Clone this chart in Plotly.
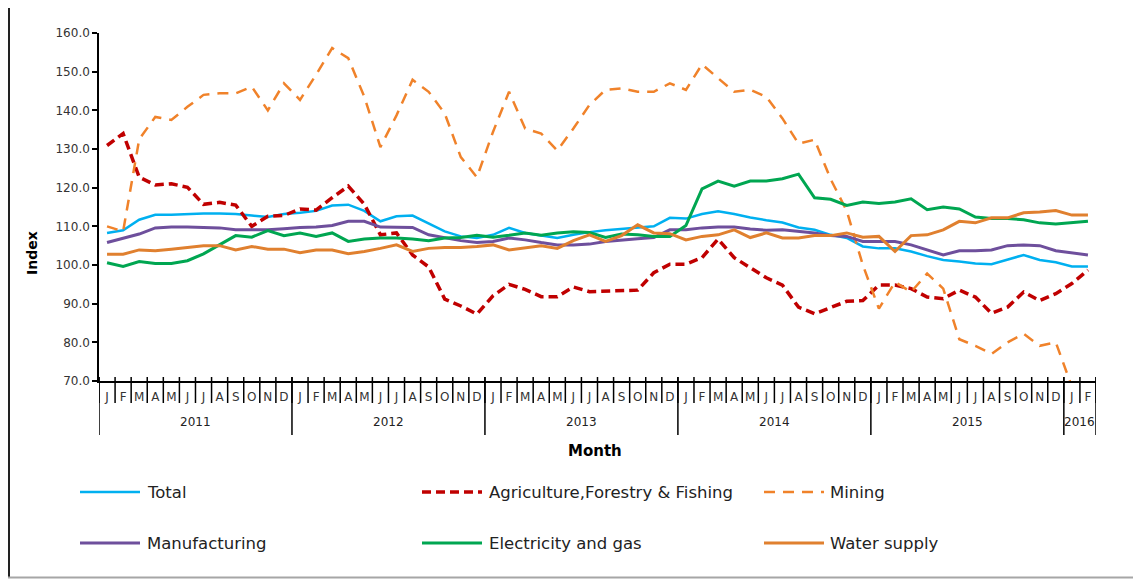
import plotly.graph_objects as go

# ---------------- data ----------------
month_letters = list("JFMAMJJASOND") * 5 + ["J", "F"]
year_labels = ["2011", "2012", "2013", "2014", "2015", "2016"]
year_month_counts = [12, 12, 12, 12, 12, 2]

total = [108.3, 109.0, 111.7, 113.0, 113.0, 113.2, 113.3, 113.3, 113.2, 112.8, 112.4, 113.2,
         113.5, 114.0, 115.4, 115.6, 114.0, 111.3, 112.6, 112.8, 110.8, 108.7, 107.4, 107.0,
         107.8, 109.6, 108.3, 107.7, 107.0, 107.8, 108.5, 109.0, 109.3, 109.7, 110.0, 112.2,
         112.0, 113.2, 113.9, 113.2, 112.3, 111.6, 111.0, 109.7, 109.1, 107.8, 107.0, 104.8,
         104.3, 104.3, 103.5, 102.3, 101.3, 100.9, 100.4, 100.2, 101.3, 102.6, 101.3, 100.7,
         99.6, 99.6]

agriculture = [130.9, 134.0, 122.7, 120.7, 121.0, 120.1, 115.7, 116.2, 115.5, 110.0, 112.6, 112.8,
               114.5, 114.2, 117.4, 120.4, 115.7, 107.8, 108.3, 102.6, 99.5, 91.2, 89.4, 87.3,
               92.0, 95.0, 93.7, 91.8, 91.8, 94.3, 93.1, 93.3, 93.5, 93.5, 98.0, 100.2,
               100.2, 101.9, 106.7, 101.9, 99.3, 96.7, 94.8, 89.1, 87.4, 89.1, 90.6, 90.8,
               94.8, 94.8, 93.9, 91.7, 91.3, 93.5, 91.7, 87.5, 89.1, 93.0, 90.8, 92.6,
               95.2, 98.7]

mining = [110.0, 108.7, 132.5, 138.3, 137.5, 140.9, 144.0, 144.4, 144.4, 146.1, 140.0, 147.0,
          142.7, 149.2, 156.1, 153.5, 143.5, 130.5, 138.7, 147.9, 144.8, 139.2, 127.9, 122.7,
          134.4, 144.8, 135.3, 134.0, 129.6, 135.3, 141.4, 145.3, 145.7, 144.8, 144.8, 147.0,
          145.3, 151.9, 148.3, 144.8, 145.3, 143.5, 137.9, 131.4, 132.4, 122.2, 114.0, 100.0,
          88.7, 95.6, 93.0, 97.8, 93.9, 80.8, 79.1, 77.0, 80.0, 82.2, 79.1, 80.0,
          68.5, None]

manufacturing = [105.8, 107.0, 108.0, 109.6, 109.8, 109.8, 109.7, 109.6, 109.1, 109.1, 109.1, 109.4,
                 109.7, 109.8, 110.2, 111.3, 111.3, 109.8, 109.7, 109.7, 107.8, 107.0, 106.3, 105.8,
                 106.1, 107.0, 106.5, 105.8, 105.2, 105.2, 105.4, 106.1, 106.5, 106.8, 107.1, 109.1,
                 109.1, 109.6, 109.8, 109.8, 109.3, 109.0, 109.1, 108.7, 108.3, 107.6, 107.4, 106.1,
                 106.1, 106.1, 105.2, 103.9, 102.6, 103.7, 103.7, 103.9, 105.0, 105.2, 105.0, 103.7,
                 103.2, 102.6]

electricity = [100.6, 99.6, 100.9, 100.4, 100.4, 101.1, 102.9, 105.2, 107.6, 107.2, 108.9, 107.6,
               108.3, 107.4, 108.3, 106.1, 106.7, 107.0, 107.0, 106.7, 106.3, 107.0, 107.1, 107.7,
               107.2, 107.7, 108.3, 107.7, 108.3, 108.6, 108.4, 107.1, 108.0, 107.8, 107.4, 107.4,
               110.2, 119.7, 121.7, 120.4, 121.7, 121.7, 122.3, 123.5, 117.4, 117.0, 115.4, 116.3,
               115.9, 116.3, 117.1, 114.3, 115.0, 114.5, 112.4, 112.0, 112.0, 111.7, 110.9, 110.6,
               110.9, 111.3]

water = [102.8, 102.8, 103.9, 103.7, 104.1, 104.5, 105.0, 105.0, 103.9, 104.8, 104.1, 104.1,
         103.2, 103.9, 103.9, 102.9, 103.5, 104.3, 105.2, 103.5, 104.3, 104.5, 104.5, 104.8,
         105.2, 103.9, 104.5, 105.0, 104.3, 106.3, 107.8, 106.1, 107.6, 110.4, 108.3, 108.1,
         106.5, 107.4, 107.8, 109.1, 107.1, 108.3, 107.0, 107.0, 107.6, 107.6, 108.3, 107.2,
         107.4, 103.5, 107.6, 107.8, 109.1, 111.3, 110.9, 112.2, 112.2, 113.5, 113.7, 114.1,
         112.9, 112.9]

series_names = ["Total", "Agriculture,Forestry & Fishing", "Mining",
                "Manufacturing", "Electricity and gas", "Water supply"]
series_values = [total, agriculture, mining, manufacturing, electricity, water]

y_range = [70, 160]
y_dtick = 10

# ---------------- styling ----------------
styles = [
    dict(color="#00B0F0", width=2.5, dash="solid"),
    dict(color="#C00000", width=3.5, dash="9px,5px"),
    dict(color="#F0822A", width=2.5, dash="11px,8px"),
    dict(color="#6E4F9C", width=3, dash="solid"),
    dict(color="#00A651", width=3, dash="solid"),
    dict(color="#E0802F", width=3, dash="solid"),
]

OFF = 8  # page body margin: figure starts 8px into the window
W_FIG, H_FIG = 1141 - OFF, 579 - OFF
L, R, T, B = 99 - OFF, 1096 - OFF, 33 - OFF, 381 - OFF
PW, PH = R - L, B - T


def px2x(px):
    """reference-window x pixel -> paper x"""
    return (px - OFF - L) / PW


def py2y(py):
    """reference-window y pixel -> paper y"""
    return (B - (py - OFF)) / PH


FONT = "DejaVu Sans"
n = len(month_letters)
xs = list(range(n))

fig = go.Figure()
for name, vals, st in zip(series_names, series_values, styles):
    fig.add_trace(go.Scatter(x=xs, y=vals, mode="lines", name=name,
                             line=dict(color=st["color"], width=st["width"], dash=st["dash"]),
                             showlegend=False, connectgaps=False))

shapes = []
annotations = []
# month separators
for k in range(n + 1):
    shapes.append(dict(type="line", xref="x", yref="paper", x0=k - 0.5, x1=k - 0.5,
                       y0=py2y(377), y1=py2y(403), line=dict(color="black", width=1.5)))
# year separators
pos = 0
bounds = [-0.5]
for cnt in year_month_counts:
    pos += cnt
    bounds.append(pos - 0.5)
for b in bounds:
    shapes.append(dict(type="line", xref="x", yref="paper", x0=b, x1=b,
                       y0=py2y(377), y1=py2y(435), line=dict(color="black", width=1.5)))
for i, yl in enumerate(year_labels):
    annotations.append(dict(x=(bounds[i] + bounds[i + 1]) / 2, y=py2y(422), xref="x", yref="paper",
                            text=yl, showarrow=False, font=dict(family=FONT, size=12, color="#222"),
                            xanchor="center", yanchor="middle"))

annotations.append(dict(x=px2x(595), y=py2y(451), xref="paper", yref="paper", text="<b>Month</b>",
                        showarrow=False, font=dict(family=FONT, size=15, color="black"),
                        xanchor="center", yanchor="middle"))
annotations.append(dict(x=px2x(32), y=py2y(253), xref="paper", yref="paper", text="<b>Index</b>",
                        showarrow=False, textangle=-90, font=dict(family=FONT, size=14, color="black"),
                        xanchor="center", yanchor="middle"))

# legend (manual)
leg_cols = [(80, 140, 145), (422, 482, 487), (764, 824, 828)]
leg_rows = [492, 543]
for idx, (name, st) in enumerate(zip(series_names, styles)):
    r, c = divmod(idx, 3)
    x0, x1, xt = leg_cols[c]
    yy = leg_rows[r]
    shapes.append(dict(type="line", xref="paper", yref="paper", x0=px2x(x0), x1=px2x(x1),
                       y0=py2y(yy), y1=py2y(yy),
                       line=dict(color=st["color"], width=st["width"], dash=st["dash"])))
    annotations.append(dict(x=px2x(xt), y=py2y(yy), xref="paper", yref="paper", text=name,
                            showarrow=False, font=dict(family=FONT, size=16.5, color="#222"),
                            xanchor="left", yanchor="middle"))

# frame
shapes.append(dict(type="line", xref="paper", yref="paper", x0=px2x(9), x1=px2x(9),
                   y0=py2y(8), y1=py2y(578), line=dict(color="#222", width=2)))
shapes.append(dict(type="line", xref="paper", yref="paper", x0=px2x(8), x1=px2x(1141),
                   y0=py2y(577.5), y1=py2y(577.5), line=dict(color="#A6A6A6", width=2)))

fig.update_layout(
    width=W_FIG, height=H_FIG,
    margin=dict(l=L, r=W_FIG - R, t=T, b=H_FIG - B, pad=0),
    paper_bgcolor="white", plot_bgcolor="white",
    showlegend=False,
    xaxis=dict(range=[-0.5, n - 0.5], tickmode="array", tickvals=xs, ticktext=month_letters,
               ticks="", showline=True, linecolor="black", linewidth=1.5, showgrid=False,
               zeroline=False, tickfont=dict(family=FONT, size=12, color="#333"),
               tickangle=0, ticklabelstandoff=4),
    yaxis=dict(range=y_range, dtick=y_dtick, tick0=70, tickformat=".1f", ticks="outside",
               ticklen=5, tickwidth=1.5, tickcolor="black", showline=True, linecolor="black",
               linewidth=1.5, showgrid=False, zeroline=False,
               tickfont=dict(family=FONT, size=12, color="#333")),
    shapes=shapes, annotations=annotations,
)

fig.write_html("out.html")
